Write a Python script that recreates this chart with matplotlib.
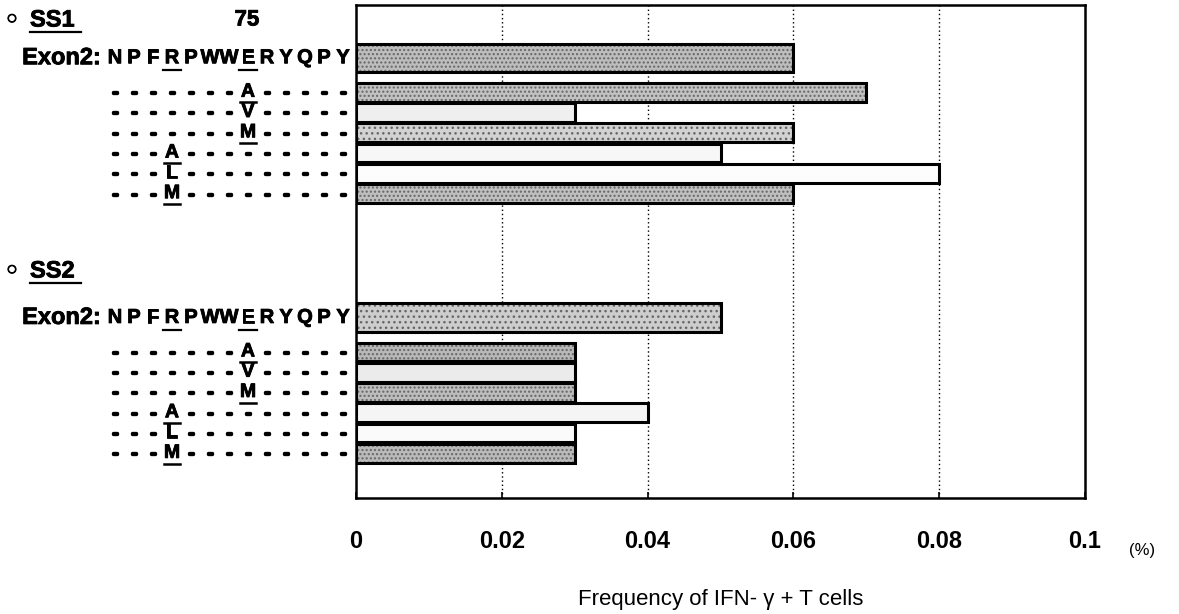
import numpy as np
import matplotlib
matplotlib.use('Agg')
import matplotlib.pyplot as plt
from matplotlib import transforms
from matplotlib.lines import Line2D
import matplotlib.patheffects as pe

plt.rcParams['font.family'] = ['Liberation Sans', 'DejaVu Sans']

# data
groups = ['SS1', 'SS2']
sequence = 'NPFRPWWERYQPY'
wt_underline = [3, 7]                      # R and E are underlined
mutant_pos = [7, 7, 7, 3, 3, 3]            # column of the substitution
mutant_aa = ['A', 'V', 'M', 'A', 'L', 'M']
mutant_underlined = [True, False, True, True, False, True]
ss1_values = [0.06, 0.07, 0.03, 0.06, 0.05, 0.08, 0.06]
ss2_values = [0.05, 0.03, 0.03, 0.03, 0.04, 0.03, 0.03]
xticks = [0, 0.02, 0.04, 0.06, 0.08, 0.1]
xtick_labels = ['0', '0.02', '0.04', '0.06', '0.08', '0.1']

# bar fills (stippled greys in the original)
ss1_fills = ['#bdbdbd', '#c2c2c2', '#efefef', '#d2d2d2', '#f7f7f7', '#fdfdfd', '#bfbfbf']
ss2_fills = ['#cdcdcd', '#b8b8b8', '#ebebeb', '#bdbdbd', '#f5f5f5', '#fafafa', '#bababa']
ss1_hatch = ['....', '....', '', '...', '', '', '....']
ss2_hatch = ['...', '....', '', '....', '', '', '....']

W, H = 1179, 614
fig = plt.figure(figsize=(W / 100, H / 100), dpi=100)
ax = fig.add_axes([356 / W, 1 - 498 / H, (1085 - 356) / W, (498 - 5) / H])

def fx(px):
    return px / W

def fy(py):
    return 1 - py / H

bold_fx = [pe.withStroke(linewidth=0.6, foreground='black')]
dash_fx = [pe.withStroke(linewidth=2.4, foreground='black')]

group_start = [2.6, 15.4]
row_tr = transforms.blended_transform_factory(fig.transFigure, ax.transData)
col_x = [115 + i * 19.0 for i in range(len(sequence))]

for g, (name, vals, fills, hatches) in enumerate(zip(groups, [ss1_values, ss2_values],
                                                      [ss1_fills, ss2_fills],
                                                      [ss1_hatch, ss2_hatch])):
    start = group_start[g]
    ypos = [start] + [start + 1.7 + i for i in range(len(mutant_aa))]
    heights = [1.4] + [0.92] * len(mutant_aa)
    ax.barh(ypos, vals, height=heights, color=fills, edgecolor='#666666',
            hatch=hatches, linewidth=0, zorder=3)
    ax.barh(ypos, vals, height=heights, fill=False, edgecolor='black',
            linewidth=2.2, zorder=4)

    # wild type sequence row
    fig.text(fx(101), ypos[0], 'Exon2:', transform=row_tr, ha='right', va='center',
             fontsize=17, fontweight='bold', path_effects=bold_fx)
    for i, aa in enumerate(sequence):
        fig.text(fx(col_x[i]), ypos[0], aa, transform=row_tr, ha='center', va='center',
                 fontsize=14.5, fontweight='bold', path_effects=bold_fx)
    for i in wt_underline:
        fig.add_artist(Line2D([fx(col_x[i] - 9), fx(col_x[i] + 9)], [ypos[0] + 0.6] * 2,
                              transform=row_tr, color='black', lw=1.6))

    # substitution rows
    for k, (pos, aa, ul) in enumerate(zip(mutant_pos, mutant_aa, mutant_underlined)):
        y = ypos[k + 1]
        for i in range(len(sequence)):
            if i == pos:
                fig.text(fx(col_x[i]), y, aa, transform=row_tr, ha='center', va='center',
                         fontsize=14, fontweight='bold', path_effects=bold_fx)
                if ul:
                    fig.add_artist(Line2D([fx(col_x[i] - 8), fx(col_x[i] + 8)], [y + 0.5] * 2,
                                          transform=row_tr, color='black', lw=1.8))
            else:
                fig.text(fx(col_x[i]), y, '\u2013', transform=row_tr, ha='center', va='center',
                         fontsize=7, fontweight='bold', path_effects=dash_fx)

# group headers
for name, py in zip(groups, [20, 271]):
    fig.text(fx(12), fy(py), '\u25e6', ha='center', va='center', fontsize=17,
             fontweight='bold', family=['DejaVu Sans'], path_effects=bold_fx)
    fig.text(fx(30), fy(py), name, ha='left', va='center', fontsize=17, fontweight='bold',
             path_effects=bold_fx)
    fig.add_artist(Line2D([fx(30), fx(81)], [fy(py + 12)] * 2, color='black', lw=1.6))
fig.text(fx(247), fy(20), '75', ha='center', va='center', fontsize=16, fontweight='bold',
         path_effects=bold_fx)

ax.set_xlim(0, 0.1)
ax.set_ylim(24.3, 0)
ax.set_yticks([])
ax.set_xticks(xticks)
ax.set_xticklabels(xtick_labels, fontsize=17, fontweight='bold')
ax.tick_params(axis='x', direction='in', length=4, width=1.2, pad=23)
for x in xticks[1:-1]:
    ax.axvline(x, color='black', lw=1.0, ls=(0, (1, 2)), zorder=1)
for s in ax.spines.values():
    s.set_linewidth(1.8)

ax.set_xlabel('Frequency of IFN- \u03b3 + T cells', fontsize=16, labelpad=26)
fig.text(fx(1142), fy(550), '(%)', ha='center', va='center', fontsize=12)

fig.savefig('out.png', dpi=100)
